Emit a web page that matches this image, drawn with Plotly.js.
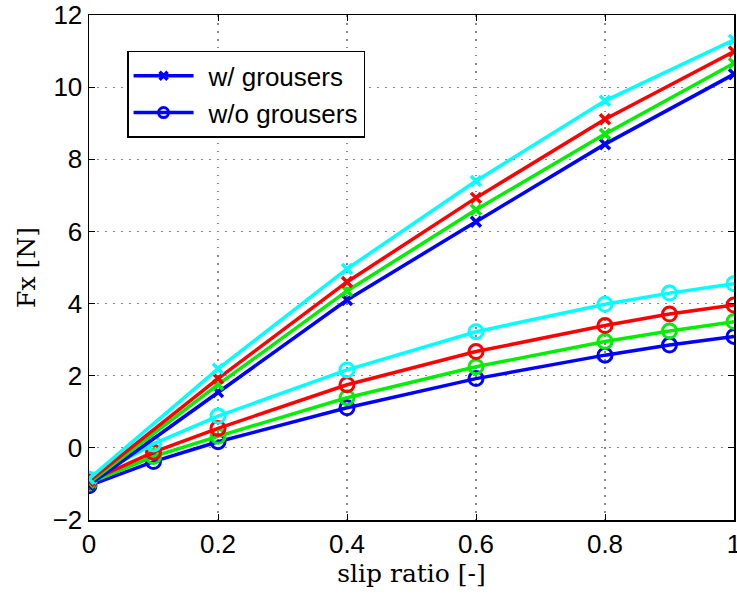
<!DOCTYPE html>
<html>
<head>
<meta charset="utf-8">
<script src="https://cdn.plot.ly/plotly-3.0.1.min.js"></script>
<style>html,body{margin:0;padding:0;background:#fff;}#chart{width:737px;height:597px;}</style>
</head>
<body>
<div id="chart"></div>
<script>
// slip ratio values
const slipWith = [0, 0.2, 0.4, 0.6, 0.8, 1.0];
const slipWithout = [0, 0.1, 0.2, 0.4, 0.6, 0.8, 0.9, 1.0];

// w/ grousers (x markers)
const withBlue  = [-1.03, 1.55, 4.10, 6.27, 8.42, 10.36];
const withGreen = [-0.97, 1.75, 4.35, 6.60, 8.70, 10.66];
const withRed   = [-0.92, 1.92, 4.60, 6.93, 9.11, 10.99];
const withCyan  = [-0.86, 2.19, 4.96, 7.40, 9.62, 11.31];

// w/o grousers (circle markers)
const withoutBlue  = [-1.05, -0.38, 0.17, 1.11, 1.92, 2.57, 2.85, 3.09];
const withoutGreen = [-0.98, -0.24, 0.32, 1.39, 2.25, 2.95, 3.24, 3.50];
const withoutRed   = [-0.93, -0.12, 0.54, 1.75, 2.67, 3.39, 3.71, 3.96];
const withoutCyan  = [-0.87, 0.11, 0.88, 2.16, 3.22, 3.98, 4.29, 4.55];

const legendNames = ['w/ grousers', 'w/o grousers'];
const xTickVals = [0, 0.2, 0.4, 0.6, 0.8, 1];
const xTickText = ['0', '0.2', '0.4', '0.6', '0.8', '1'];
const yTickVals = [-2, 0, 2, 4, 6, 8, 10, 12];

const colors = {blue: '#0000ff', green: '#00ee00', red: '#ff0000', cyan: '#00ffff'};

function crossTrace(y, c) {
  return {x: slipWith, y: y, type: 'scatter', mode: 'lines+markers', showlegend: false,
    line: {color: c, width: 3.5},
    marker: {symbol: 'x-thin-open', size: 10, line: {color: c, width: 3.5}, color: c},
    cliponaxis: true};
}
function circleTrace(y, c) {
  return {x: slipWithout, y: y, type: 'scatter', mode: 'lines+markers', showlegend: false,
    line: {color: c, width: 3.5},
    marker: {symbol: 'circle-open', size: 14, line: {color: c, width: 3}, color: c},
    cliponaxis: true};
}

const data = [
  circleTrace(withoutBlue, colors.blue),
  circleTrace(withoutGreen, colors.green),
  circleTrace(withoutRed, colors.red),
  circleTrace(withoutCyan, colors.cyan),
  crossTrace(withBlue, colors.blue),
  crossTrace(withGreen, colors.green),
  crossTrace(withRed, colors.red),
  crossTrace(withCyan, colors.cyan),
  {x: [null], y: [null], type: 'scatter', mode: 'lines+markers', name: legendNames[0],
    line: {color: colors.blue, width: 3.5},
    marker: {symbol: 'x-thin-open', size: 8, line: {color: colors.blue, width: 3.5}}},
  {x: [null], y: [null], type: 'scatter', mode: 'lines+markers', name: legendNames[1],
    line: {color: colors.blue, width: 3.5},
    marker: {symbol: 'circle-open', size: 10, line: {color: colors.blue, width: 3}}}
];

const tickFont = {family: 'Liberation Sans, Arial, sans-serif', size: 26, color: '#000'};
const titleFont = {family: 'DejaVu Serif, Liberation Serif, serif', size: 25, color: '#000'};

const layout = {
  width: 737, height: 597,
  margin: {l: 89, r: 3, t: 15, b: 77},
  paper_bgcolor: '#fff', plot_bgcolor: '#fff',
  showlegend: true,
  legend: {x: 0.059, y: 0.929, xanchor: 'left', yanchor: 'top',
    bgcolor: '#fff', bordercolor: '#000', borderwidth: 1.5,
    font: {family: 'Liberation Sans, Arial, sans-serif', size: 26, color: '#000'},
    itemwidth: 70, tracegroupgap: 0},
  xaxis: {range: [0, 1], tickvals: xTickVals, ticktext: xTickText,
    showgrid: true, gridcolor: '#888', griddash: '1.5px,6.5px', gridwidth: 1.2,
    zeroline: false, showline: true, linecolor: '#000', linewidth: 1.5, mirror: 'ticks',
    ticks: 'inside', ticklen: 6, tickcolor: '#000', ticklabeloverflow: 'allow',
    tickfont: tickFont,
    title: {text: 'slip ratio [-]', font: titleFont, standoff: 6}},
  yaxis: {range: [-2, 12], tickvals: yTickVals,
    showgrid: true, gridcolor: '#888', griddash: '1.5px,6.5px', gridwidth: 1.2,
    zeroline: false, showline: true, linecolor: '#000', linewidth: 1.5, mirror: 'ticks',
    ticks: 'inside', ticklen: 6, tickcolor: '#000', ticklabeloverflow: 'allow',
    tickfont: tickFont,
    title: {text: 'Fx [N]', font: titleFont, standoff: 10}}
};

Plotly.newPlot('chart', data, layout, {displayModeBar: false, staticPlot: true}).then(function (gd) {
  // lengthen the legend sample lines to match the reference legend
  gd.querySelectorAll('.legend .traces').forEach(function (tr) {
    tr.querySelectorAll('.legendlines path').forEach(function (p) { p.setAttribute('d', 'M5,0h60'); });
    tr.querySelectorAll('.legendpoints path').forEach(function (p) { p.setAttribute('transform', 'translate(35,0)'); });
  });
});
</script>
</body>
</html>
